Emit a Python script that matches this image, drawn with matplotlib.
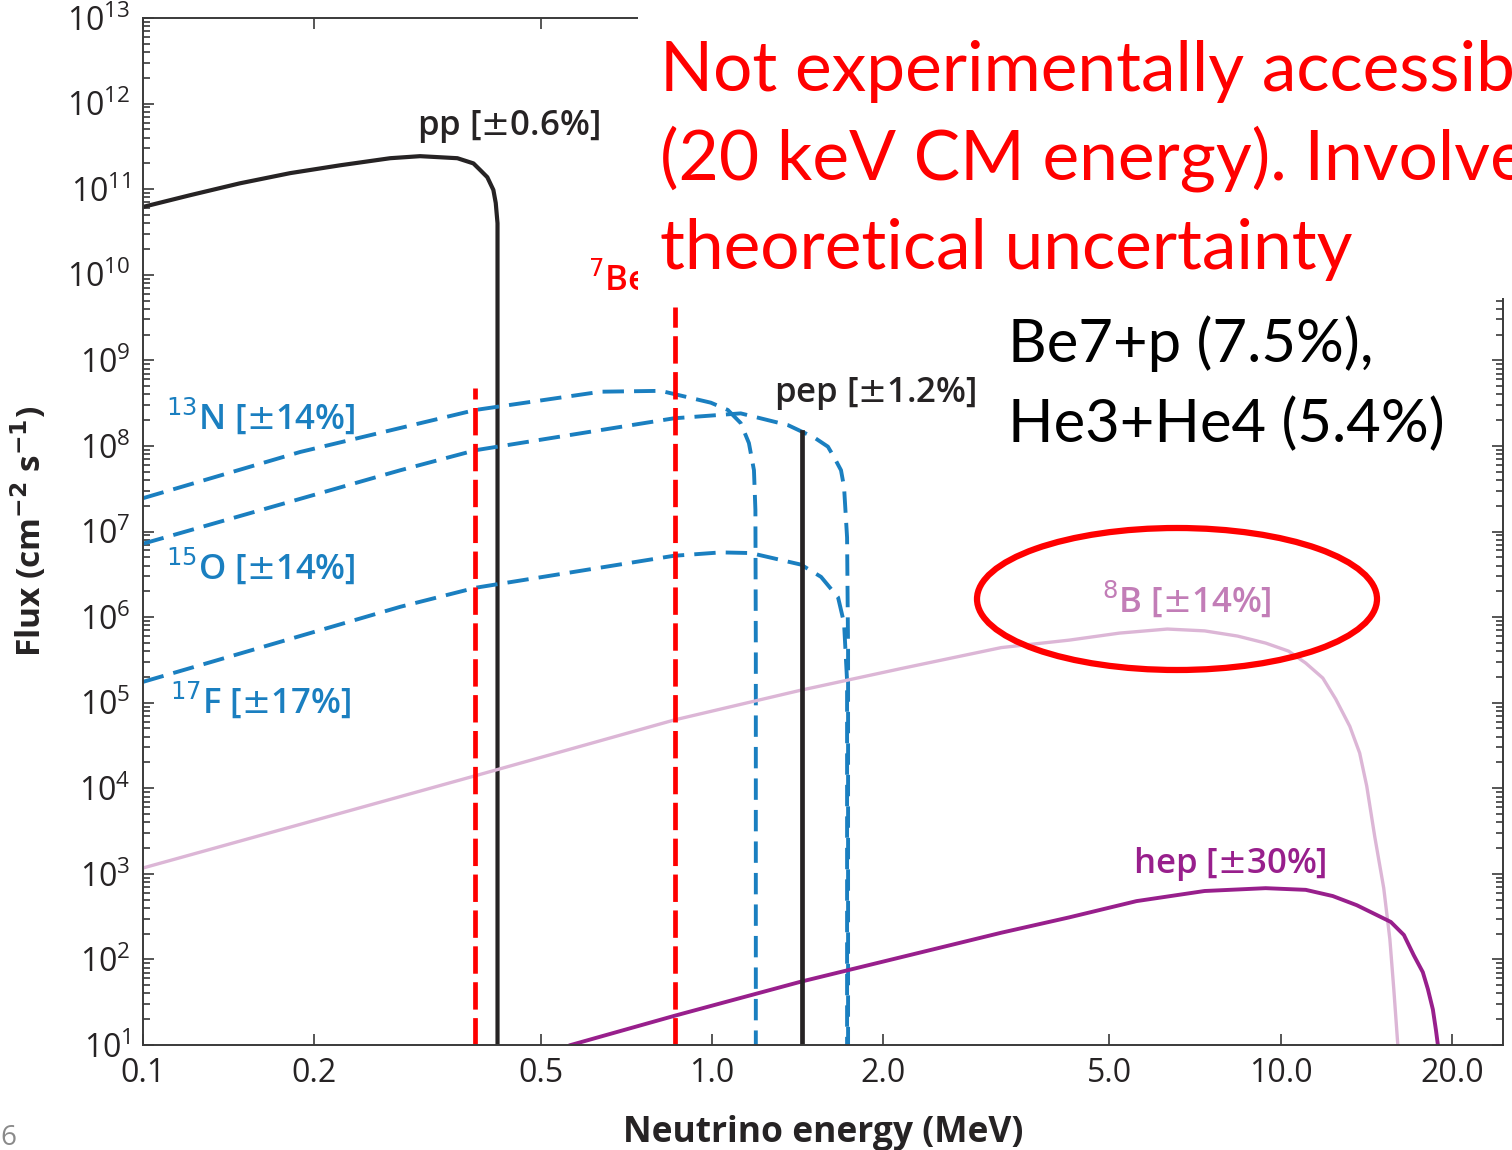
"""
Solar neutrino flux spectrum (pp chain + CNO) with overlay notes.
Writes out.png.
"""
import numpy as np
import matplotlib
matplotlib.use("Agg")
import matplotlib.pyplot as plt
from matplotlib.patches import Ellipse, Rectangle
from matplotlib.ticker import FixedLocator, LogLocator, NullLocator

# --- spectra: energy (MeV) and flux (cm^-2 s^-1) ---
pp_energy = [0.1, 0.121, 0.148, 0.1815, 0.222, 0.272, 0.307, 0.357, 0.381, 0.392, 0.403, 0.413, 0.417,
             0.42, 0.42]
pp_flux = [6.2e10, 8.5e10, 1.17e11, 1.54e11, 1.9e11, 2.3e11, 2.43e11, 2.3e11, 2.0e11, 1.66e11, 1.38e11,
           9.8e10, 6.9e10, 4.0e10, 10]

n13_energy = [0.1, 0.189, 0.384, 0.638, 0.813, 0.996, 1.067, 1.124, 1.162, 1.186, 1.193, 1.195, 1.195]
n13_flux = [2.45e7, 8.5e7, 2.63e8, 4.3e8, 4.4e8, 3.2e8, 2.63e8, 1.85e8, 1.08e8, 5.2e7, 1.78e7, 4.1e5, 10]

o15_energy = [0.1, 0.2835, 0.384, 0.857, 1.124, 1.361, 1.512, 1.600, 1.640, 1.687, 1.708, 1.729, 1.736,
              1.736]
o15_flux = [7.2e6, 5.2e7, 8.9e7, 2.1e8, 2.4e8, 1.75e8, 1.26e8, 9.8e7, 7.4e7, 5.2e7, 3.3e7, 8.5e6, 4.1e5, 10]

f17_energy = [0.1, 0.2835, 0.384, 0.857, 1.037, 1.171, 1.435, 1.556, 1.667, 1.708, 1.729, 1.729]
f17_flux = [1.75e5, 1.32e6, 2.2e6, 5.2e6, 5.7e6, 5.6e6, 4.1e6, 2.95e6, 1.7e6, 8.5e5, 1.8e5, 10]

b8_energy = [0.1, 0.384, 0.861, 1.435, 2.15, 3.227, 4.25, 5.21, 6.32, 7.35, 8.40, 9.41, 10.33, 11.07,
             11.86, 12.50, 13.23, 13.77, 14.17, 14.64, 15.18, 15.56, 15.81, 16.07]
b8_flux = [1.17e3, 1.4e4, 6.3e4, 1.4e5, 2.5e5, 4.4e5, 5.38e5, 6.5e5, 7.25e5, 6.9e5, 6.0e5, 4.97e5, 4.0e5,
           2.9e5, 1.94e5, 1.1e5, 5.3e4, 2.58e4, 1.06e4, 2.7e3, 6.8e2, 1.73e2, 45, 10]

hep_energy = [0.565, 0.861, 1.435, 3.227, 4.25, 5.58, 7.35, 9.41, 11.07, 12.35, 13.61, 14.76, 15.62,
              16.47, 17.14, 17.78, 18.15, 18.52, 18.75, 18.90]
hep_flux = [10, 22, 55, 2.05e2, 3.1e2, 4.8e2, 6.3e2, 6.8e2, 6.5e2, 5.5e2, 4.3e2, 3.3e2, 2.74e2,
            1.93e2, 1.12e2, 71, 45, 26, 15, 10]

# line sources: energy (MeV), flux
be7_lines = [(0.384, 4.7e8), (0.862, 4.2e9)]
pep_line = (1.44, 1.45e8)

xticks = [0.1, 0.2, 0.5, 1.0, 2.0, 5.0, 10.0, 20.0]
xtick_labels = ["0.1", "0.2", "0.5", "1.0", "2.0", "5.0", "10.0", "20.0"]
ydecades = list(range(1, 14))

BLACK = "#262324"
BLUE = "#1a7fc0"
RED = "#ff0000"
PINK = "#dcb6d6"
PINK_TXT = "#c27db7"
PURPLE = "#981f8c"
FONT = ["Open Sans", "DejaVu Sans"]
SLIDE_FONT = ["Lato", "DejaVu Sans"]

W, H = 1512, 1150
AX_L, AX_R, AX_T, AX_B = 143, 1503, 18, 1045

fig = plt.figure(figsize=(W / 100, H / 100), dpi=100)
ax = fig.add_axes([AX_L / W, 1 - AX_B / H, (AX_R - AX_L) / W, (AX_B - AX_T) / H])
ax.set_xscale("log")
ax.set_yscale("log")
ax.set_xlim(0.1, 24.6)
ax.set_ylim(10, 1e13)


def ax_pos(px, py):
    """pixel position on the canvas -> axes fraction"""
    return (px - AX_L) / (AX_R - AX_L), (AX_B - py) / (AX_B - AX_T)


# continuum spectra
ax.plot(pp_energy, pp_flux, color=BLACK, lw=3.0, solid_joinstyle="round")
for e, f in [(n13_energy, n13_flux), (o15_energy, o15_flux), (f17_energy, f17_flux)]:
    ax.plot(e, f, color=BLUE, lw=2.8, dashes=(5.5, 2.6))
ax.plot(b8_energy, b8_flux, color=PINK, lw=2.4)
ax.plot(hep_energy, hep_flux, color=PURPLE, lw=2.8)

# line spectra
for e, f in be7_lines:
    ax.plot([e, e], [10, f], color=RED, lw=3.4, dashes=(5.8, 1.8))
ax.plot([pep_line[0]] * 2, [10, pep_line[1]], color=BLACK, lw=3.4)

# axes styling
for s in ax.spines.values():
    s.set_color("#3a3a3a")
    s.set_linewidth(1.4)
ax.xaxis.set_major_locator(FixedLocator(xticks))
ax.xaxis.set_minor_locator(NullLocator())
ax.set_xticklabels(xtick_labels)
ax.yaxis.set_major_locator(FixedLocator([10.0 ** d for d in ydecades]))
ax.yaxis.set_minor_locator(LogLocator(base=10, subs=np.arange(2, 10), numticks=50))
ax.set_yticklabels([r"$\mathregular{10^{%d}}$" % d for d in ydecades])
ax.tick_params(which="both", direction="in", top=True, right=True, color="#3a3a3a", width=1.2)
ax.tick_params(which="major", length=8)
ax.tick_params(which="minor", length=5)
ax.tick_params(axis="x", pad=9, labelsize=23, labelcolor=BLACK)
ax.tick_params(axis="y", pad=9, labelsize=23, labelcolor=BLACK)
for lab in ax.get_xticklabels() + ax.get_yticklabels():
    lab.set_family(FONT)

ax.set_xlabel("Neutrino energy (MeV)", family=FONT, fontsize=25.5, fontweight="bold", color=BLACK)
ax.set_ylabel(r"Flux (cm$^{\mathbf{-2}}$ s$^{\mathbf{-1}}$)", family=FONT, fontsize=24,
              fontweight="bold", color=BLACK)
ax.xaxis.set_label_coords(0.5, -0.068)
ax.yaxis.set_label_coords(-0.069, 0.5)

# source labels (left edge, baseline)
lab_kw = dict(family=FONT, fontsize=25, fontweight="semibold", transform=ax.transAxes,
              va="baseline", ha="left")
ax.text(*ax_pos(417, 135), r"pp [$\pm$0.6%]", color=BLACK, **lab_kw)
ax.text(*ax_pos(774, 402), r"pep [$\pm$1.2%]", color=BLACK, **lab_kw)
ax.text(*ax_pos(166, 429), r"$^{13}$N [$\pm$14%]", color=BLUE, **lab_kw)
ax.text(*ax_pos(166, 579), r"$^{15}$O [$\pm$14%]", color=BLUE, **lab_kw)
ax.text(*ax_pos(170, 713), r"$^{17}$F [$\pm$17%]", color=BLUE, **lab_kw)
ax.text(*ax_pos(1102, 612), r"$^{8}$B [$\pm$14%]", color=PINK_TXT, **lab_kw)
ax.text(*ax_pos(1133, 873), r"hep [$\pm$30%]", color=PURPLE, **lab_kw)
ax.text(*ax_pos(588, 291), r"$^{7}$Be", color=RED, **lab_kw)

# white panel behind the notes
fig.add_artist(Rectangle((638 / W, 1 - 298 / H), 1 - 638 / W, 298 / H, transform=fig.transFigure,
                         facecolor="white", edgecolor="none", zorder=5))
note_kw = dict(family=SLIDE_FONT, color=RED, fontsize=50, zorder=6, va="baseline")
fig.text(660 / W, 1 - 91 / H, "Not experimentally accessible", **note_kw)
fig.text(660 / W, 1 - 180 / H, "(20 keV CM energy). Involves", **note_kw)
fig.text(660 / W, 1 - 269 / H, "theoretical uncertainty", **note_kw)

fig.text(1008 / W, 1 - 362 / H, "Be7+p (7.5%),", family=SLIDE_FONT, color="black",
         fontsize=43, zorder=6, va="baseline")
fig.text(1008 / W, 1 - 442 / H, "He3+He4 (5.4%)", family=SLIDE_FONT, color="black",
         fontsize=43, zorder=6, va="baseline")

fig.add_artist(Ellipse((1177 / W, 1 - 599 / H), 400 / W, 142 / H, transform=fig.transFigure,
                       fill=False, edgecolor=RED, lw=4.5, zorder=6))

fig.text(0 / W, 1 - 1145 / H, "6", family=FONT, color="#8a8a8a", fontsize=20)

fig.savefig("out.png", dpi=100)
